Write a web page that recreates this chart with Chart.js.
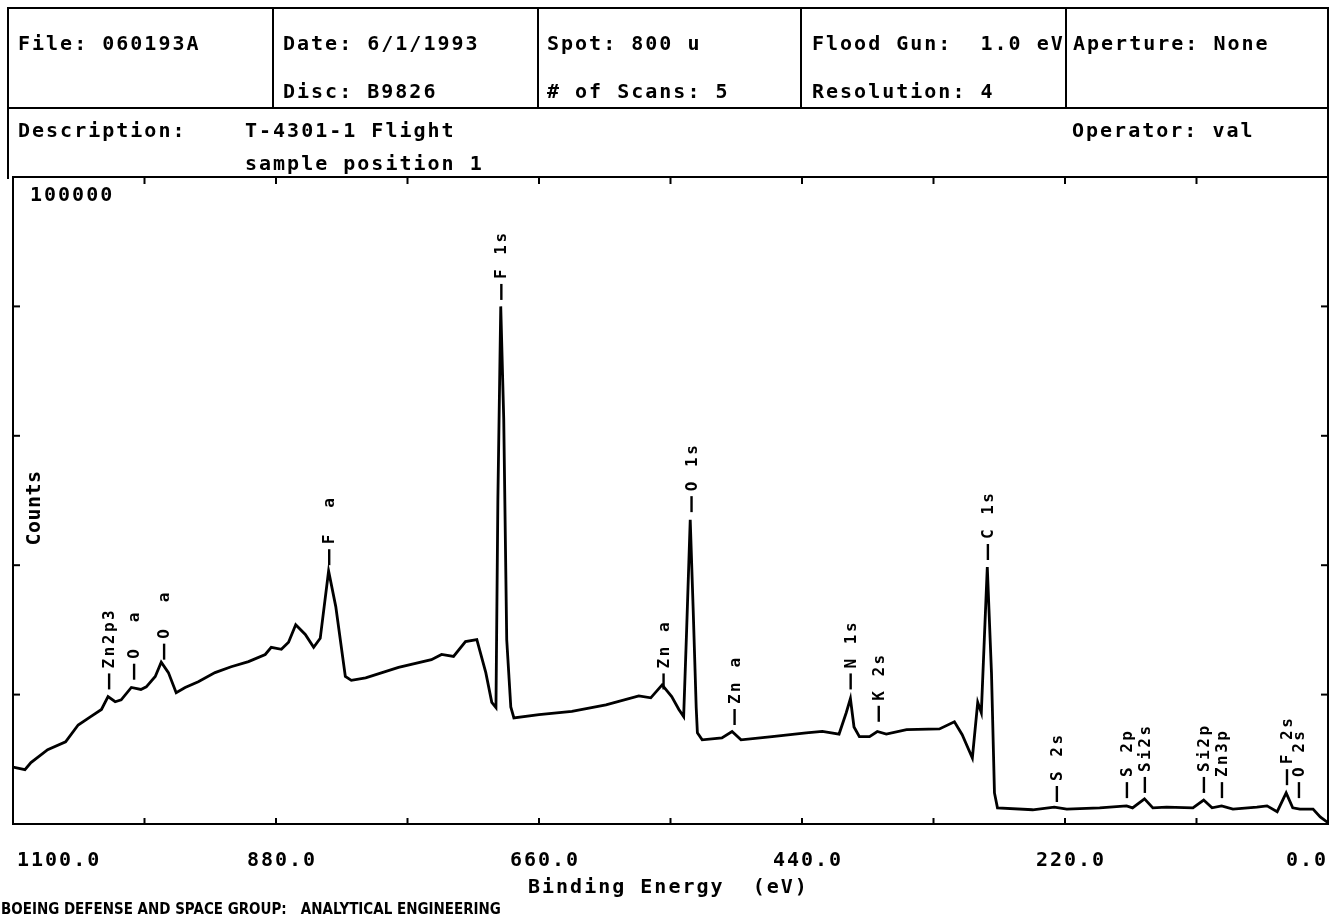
<!DOCTYPE html>
<html>
<head>
<meta charset="utf-8">
<script src="https://cdn.jsdelivr.net/npm/chart.js"></script>
<style>
  body { margin: 0; background: #fff; }
  #wrap { position: relative; width: 1330px; height: 922px; overflow: hidden; background: #fff; }
  #c { position: absolute; left: 0; top: 0; }
  .t { position: absolute; font: bold 20px "DejaVu Sans Mono", monospace; letter-spacing: 2px;
       line-height: 20px; white-space: pre; color: #000; }
  .ln { position: absolute; background: #000; }
  .foot { position: absolute; font: bold 16px "DejaVu Sans", sans-serif; line-height: 20px;
          white-space: pre; color: #000; transform-origin: 0 0; }
</style>
</head>
<body>
<div id="wrap"><canvas id="c" width="1330" height="922"></canvas></div>
<script>
// spectrum: binding energy (eV) and counts
const energy = [1100, 1090, 1085, 1071, 1056, 1045.5, 1035, 1026, 1020.5, 1014.5, 1009.5, 1001, 993, 988.5,
  981, 976, 970, 963.5, 956, 945, 931, 917.5, 903, 889, 884, 875.5, 869.5, 863.5, 855.5, 848.5, 843,
  836, 830, 822, 817, 805, 777.5, 750, 741.5, 731.5, 721.5, 712, 704.5, 699.5, 696, 694.4, 692,
  689.5, 687, 683.6, 681, 660, 632.5, 604, 576.5, 566.5, 557, 549, 543, 539, 536.5, 533.5, 531,
  528.5, 527.5, 523.5, 507, 498.5, 491, 465, 436.5, 423, 409, 403, 399.5, 396.5, 392, 383.5, 377,
  369.5, 352.5, 325, 312.5, 306, 297.5, 293, 290, 287.5, 285, 281.5, 279, 276.5, 247, 229, 218.5,
  191, 168.5, 163.5, 153.5, 146.5, 135, 113, 104, 97, 89, 79.5, 59.5, 51, 42.5, 35, 29.5, 23.5,
  12.5, 6.5, 0];
const counts = [8800, 8400, 9500, 11500, 12700, 15300, 16600, 17700, 19700, 18900, 19200, 21100, 20800, 21200,
  22800, 25000, 23400, 20300, 21100, 22000, 23400, 24300, 25100, 26200, 27300, 27000, 28100, 30800, 29300, 27300, 28700,
  39100, 33600, 22800, 22200, 22600, 24200, 25400, 26200, 25900, 28200, 28500, 23400, 18800, 18000, 50200, 80000,
  62600, 28500, 18100, 16400, 16900, 17400, 18400, 19800, 19500, 21500, 19700, 17700, 16600, 30000, 47000, 33000,
  18000, 14100, 13000, 13300, 14300, 13000, 13500, 14100, 14300, 13900, 17200, 19400, 15000, 13500, 13500, 14300,
  13900, 14600, 14700, 15800, 13800, 10200, 18800, 17200, 28500, 39700, 23400, 4800, 2500, 2200, 2600, 2300,
  2500, 2800, 2500, 3900, 2500, 2600, 2500, 3700, 2500, 2800, 2300, 2600, 2800, 1900, 4800, 2500, 2300,
  2300, 1100, 200];

// axis ticks
const xTicks = [0, 110, 220, 330, 440, 550, 660, 770, 880, 990, 1100];
const xTickLabels = [1100, 880, 660, 440, 220, 0];
const yTicks = [0, 20000, 40000, 60000, 80000, 100000];

// peak identifications: name, energy, counts at foot of the marker
const peakNames = ["Zn2p3", "O  a", "O  a", "F  a", "F 1s", "Zn a", "O 1s", "Zn a", "N 1s", "K 2s",
  "C 1s", "S 2s", "S 2p", "Si2s", "Si2p", "Zn3p", "F 2s", "O 2s"];
const peakEnergy = [1019.6, 998.7, 973.6, 835.5, 691.5, 555.8, 532.4, 496.4, 399.3, 375.8,
  284.5, 226.8, 168.2, 153.2, 103.8, 88.7, 34.3, 24.3];
const peakCounts = [20800, 22300, 25400, 40000, 81000, 20800, 48200, 15300, 20800, 15800,
  40800, 3400, 4000, 4800, 4800, 4000, 6000, 4000];

// header block (html text)
const wrap = document.getElementById('wrap');
function put(txt, x, base) {
  const d = document.createElement('div');
  d.className = 't';
  d.textContent = txt;
  d.style.left = x + 'px';
  d.style.top = (base - 17) + 'px';
  wrap.appendChild(d);
  return d;
}
function rule(x, y, w, h) {
  const d = document.createElement('div');
  d.className = 'ln';
  d.style.left = x + 'px'; d.style.top = y + 'px';
  d.style.width = w + 'px'; d.style.height = h + 'px';
  wrap.appendChild(d);
}
rule(7, 7, 1322, 2);
rule(7, 107, 1322, 2);
rule(7, 7, 2, 172);
rule(1327, 7, 2, 172);
[272, 537, 800, 1065].forEach(x => rule(x, 7, 2, 101));

put('File: 060193A', 18, 50);
put('Date: 6/1/1993', 283, 50);
put('Disc: B9826', 283, 98);
put('Spot: 800 u', 547, 50);
put('# of Scans: 5', 547, 98);
put('Flood Gun:  1.0 eV', 812, 50);
put('Resolution: 4', 812, 98);
put('Aperture:\u2009None', 1073, 50);
put('Description:', 18, 137);
put('T-4301-1 Flight', 245, 137);
put('sample position 1', 245, 170);
put('Operator: val', 1072, 137);
put('Binding Energy  (eV)', 528, 893);

const foot = document.createElement('div');
foot.className = 'foot';
foot.textContent = 'BOEING DEFENSE AND SPACE GROUP:   ANALYTICAL ENGINEERING';
foot.style.left = '1px';
foot.style.top = '899px';
wrap.appendChild(foot);
foot.style.transform = 'scaleX(' + (500 / foot.offsetWidth) + ')';

const frame = {
  id: 'frame',
  afterDraw(chart) {
    const { ctx, chartArea: a, scales: { x, y } } = chart;
    ctx.save();
    ctx.strokeStyle = '#000';
    ctx.fillStyle = '#000';
    ctx.lineWidth = 2;
    ctx.strokeRect(a.left, a.top, a.right - a.left, a.bottom - a.top);

    const seg = (x1, y1, x2, y2) => { ctx.beginPath(); ctx.moveTo(x1, y1); ctx.lineTo(x2, y2); ctx.stroke(); };
    xTicks.forEach(v => {
      const px = x.getPixelForValue(v);
      seg(px, a.top, px, a.top + 7);
      seg(px, a.bottom, px, a.bottom - 6);
    });
    yTicks.forEach(v => {
      const py = y.getPixelForValue(v);
      seg(a.left, py, a.left + 7, py);
      seg(a.right, py, a.right - 7, py);
    });

    // tick labels
    ctx.font = 'bold 20px "DejaVu Sans Mono", monospace';
    ctx.letterSpacing = '2px';
    ctx.textBaseline = 'alphabetic';
    xTickLabels.forEach((v, i) => {
      const px = x.getPixelForValue(v);
      const s = v.toFixed(1);
      if (i === 0) { ctx.textAlign = 'left'; ctx.fillText(s, px + 4, 866); }
      else if (i === xTickLabels.length - 1) { ctx.textAlign = 'right'; ctx.fillText(s, px, 866); }
      else { ctx.textAlign = 'center'; ctx.fillText(s, px + 6, 866); }
    });
    ctx.textAlign = 'left';
    ctx.fillText(String(yTicks[yTicks.length - 1]), a.left + 17, y.getPixelForValue(100000) + 24);

    // y title
    ctx.save();
    ctx.translate(40, 508);
    ctx.rotate(-Math.PI / 2);
    ctx.letterSpacing = '0.5px';
    ctx.textAlign = 'center';
    ctx.fillText('Counts', 0, 0);
    ctx.restore();

    // peak markers
    ctx.font = 'bold 16px "DejaVu Sans Mono", monospace';
    ctx.letterSpacing = '2.5px';
    ctx.lineWidth = 2.4;
    peakNames.forEach((name, i) => {
      const px = x.getPixelForValue(peakEnergy[i]);
      const py = y.getPixelForValue(peakCounts[i]);
      seg(px, py, px, py - 16);
      ctx.save();
      ctx.translate(px + 1, py - 21);
      ctx.rotate(-Math.PI / 2);
      ctx.textAlign = 'left';
      ctx.textBaseline = 'middle';
      ctx.fillText(name, 0, 0);
      ctx.restore();
    });
    ctx.restore();
  }
};

new Chart(document.getElementById('c'), {
  type: 'line',
  data: {
    datasets: [{
      data: energy.map((e, i) => ({ x: e, y: counts[i] })),
      borderColor: '#000',
      borderWidth: 2.8,
      pointRadius: 0,
      tension: 0,
      fill: false
    }]
  },
  options: {
    responsive: false,
    animation: false,
    devicePixelRatio: 1,
    layout: { padding: { left: 13, top: 177, right: 2, bottom: 98 } },
    plugins: { legend: { display: false }, tooltip: { enabled: false } },
    scales: {
      x: { type: 'linear', reverse: true, min: 0, max: 1100, display: false },
      y: { type: 'linear', min: 0, max: 100000, display: false }
    }
  },
  plugins: [frame]
});
</script>
</body>
</html>
